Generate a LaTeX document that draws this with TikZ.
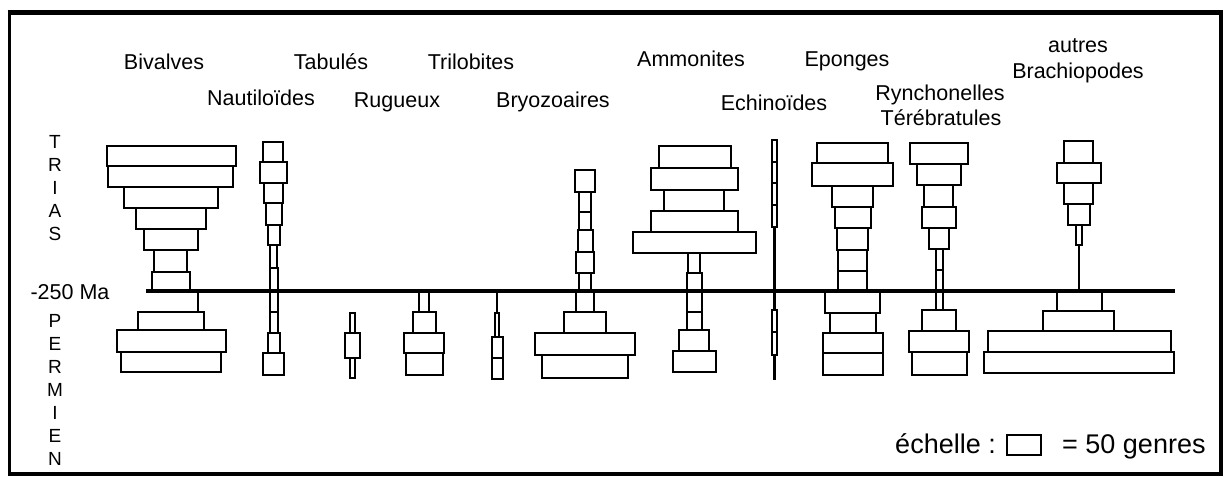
\documentclass[tikz,border=0pt]{standalone}
\usepackage{fontspec}
\setmainfont{Liberation Sans}
\begin{document}
\begin{tikzpicture}[x=1pt,y=-1pt,
  bxs/.style={draw=black,line width=2.8pt,line join=miter},
  stem/.style={draw=black,line width=2.6pt},
  lbl/.style={font=\fontsize{21.5}{24}\selectfont,anchor=base,inner sep=0pt},
  era/.style={font=\fontsize{19}{21}\selectfont,anchor=base,inner sep=0pt},
  leg/.style={font=\fontsize{27}{30}\selectfont,anchor=base,inner sep=0pt}]
\useasboundingbox (0,0) rectangle (1224,477);
\newcommand\bx[4]{\draw[bxs] (#1,#2) rectangle (#3,#4);}
% frame
\draw[line width=3.5pt] (9.5,12.5) rectangle (1221,474);
\draw[line width=5pt] (7.5,12.5) -- (1222.5,12.5);
% labels
\node[lbl] (bival) at (164,69) {Bivalves};
\node[lbl] (tabul) at (331,69) {Tabulés};
\node[lbl] (trilo) at (471,69) {Trilobites};
\node[lbl] (nauti) at (261,105) {Nautiloïdes};
\node[lbl] (rugue) at (397,107) {Rugueux};
\node[lbl] (bryoz) at (553,107) {Bryozoaires};
\node[lbl] (ammon) at (691,66) {Ammonites};
\node[lbl] (epong) at (847,66) {Eponges};
\node[lbl] (echin) at (774,110) {Echinoïdes};
\node[lbl] (rynch) at (940,100) {Rynchonelles};
\node[lbl] (tereb) at (941,125) {Térébratules};
\node[lbl] (autre) at (1078,52) {autres};
\node[lbl] (brach) at (1078,78) {Brachiopodes};
% era letters
\foreach \l/\yy [count=\i] in {T/148,R/171,I/194,A/217,S/240}
  \node[era] (tr\i) at (55,\yy) {\l};
\foreach \l/\yy [count=\i] in {P/327,E/350,R/373,M/396,I/419,E/442,N/465}
  \node[era] (pe\i) at (55,\yy) {\l};
\node[lbl] (ma) at (70,299) {-250 Ma};
% main line
\draw[line width=3.4pt] (146,291) -- (1175,291);
% Bivalves
\bx{107}{146}{236}{166}
\bx{108}{166}{233}{187}
\bx{124}{187}{218}{208}
\bx{136}{208}{206}{229}
\bx{144}{229}{198}{250}
\bx{154}{250}{187}{272}
\bx{152}{272}{190}{291}
\draw[bxs] (146,312) -- (198,312) -- (198,291);
\bx{138}{312}{204}{330}
\bx{117}{330}{226}{352}
\bx{121}{352}{221}{372}
% Nautiloides
\bx{263}{142}{283}{162}
\bx{260}{162}{287}{183}
\bx{264}{183}{283}{203}
\bx{266}{203}{282}{225}
\bx{268}{225}{280}{245}
\bx{270}{245}{277}{268}
\bx{270}{268}{278}{290}
\bx{270}{290}{278}{312}
\bx{270}{312}{278}{333}
\bx{268}{333}{280}{353}
\bx{263}{353}{284}{375}
% Tabules
\bx{350}{313}{355}{333}
\bx{345}{333}{360}{358}
\bx{350}{358}{355}{378}
% Rugueux
\bx{419}{292}{429}{312}
\bx{413}{312}{436}{333}
\bx{404}{333}{444}{353}
\bx{406}{353}{443}{375}
% Trilobites
\draw[stem] (497,291) -- (497,313);
\bx{495}{313}{499}{337}
\bx{492}{337}{503}{358}
\bx{492}{358}{503}{379}
% Bryozoaires
\bx{575}{170}{595}{192}
\bx{579}{192}{591}{212}
\bx{579}{212}{591}{230}
\bx{578}{230}{593}{252}
\bx{576}{252}{594}{273}
\bx{579}{273}{591}{292}
\bx{576}{292}{594}{312}
\bx{564}{312}{606}{333}
\bx{535}{333}{635}{355}
\bx{542}{355}{628}{378}
% Ammonites
\bx{659}{146}{731}{168}
\bx{651}{168}{738}{190}
\bx{664}{190}{724}{211}
\bx{651}{211}{738}{232}
\bx{633}{232}{756}{253}
\bx{688}{253}{700}{273}
\bx{687}{273}{702}{292}
\bx{687}{292}{702}{312}
\bx{687}{312}{702}{330}
\bx{679}{330}{709}{351}
\bx{673}{351}{716}{372}
% Echinoides
\bx{772}{140}{777}{162}
\bx{772}{162}{777}{183}
\bx{772}{183}{777}{205}
\bx{772}{205}{777}{227}
\draw[stem] (774.5,227) -- (774.5,310);
\bx{772}{310}{777}{332}
\bx{772}{332}{777}{355}
\draw[stem] (774.5,355) -- (774.5,380);
% Eponges
\bx{817}{143}{888}{163}
\bx{812}{163}{893}{186}
\bx{832}{186}{873}{207}
\bx{835}{207}{871}{228}
\bx{837}{228}{868}{250}
\bx{838}{250}{867}{271}
\bx{838}{271}{867}{291}
\bx{825}{291}{880}{313}
\bx{830}{313}{876}{333}
\bx{823}{333}{883}{353}
\bx{823}{353}{883}{375}
% Rynchonelles / Terebratules
\bx{910}{143}{968}{164}
\bx{917}{164}{961}{185}
\bx{924}{185}{953}{207}
\bx{922}{207}{956}{228}
\bx{929}{228}{949}{249}
\bx{936}{249}{943}{270}
\bx{936}{270}{943}{291}
\bx{936}{291}{943}{310}
\bx{922}{310}{956}{331}
\bx{909}{331}{969}{352}
\bx{912}{352}{967}{375}
% autres Brachiopodes
\bx{1064}{141}{1093}{163}
\bx{1057}{163}{1101}{183}
\bx{1064}{183}{1093}{204}
\bx{1068}{204}{1090}{225}
\bx{1076}{225}{1082}{245}
\draw[stem] (1079,245) -- (1079,291);
\bx{1057}{291}{1102}{311}
\bx{1043}{311}{1114}{331}
\bx{988}{331}{1171}{352}
\bx{984}{352}{1174}{373}
% legend
\node[leg,anchor=base east] (ech) at (996,453) {échelle :};
\draw[line width=2.2pt] (1007,435) rectangle (1041,455);
\node[leg,anchor=base west] (gen) at (1062,453) {= 50 genres};
\end{tikzpicture}
\end{document}
